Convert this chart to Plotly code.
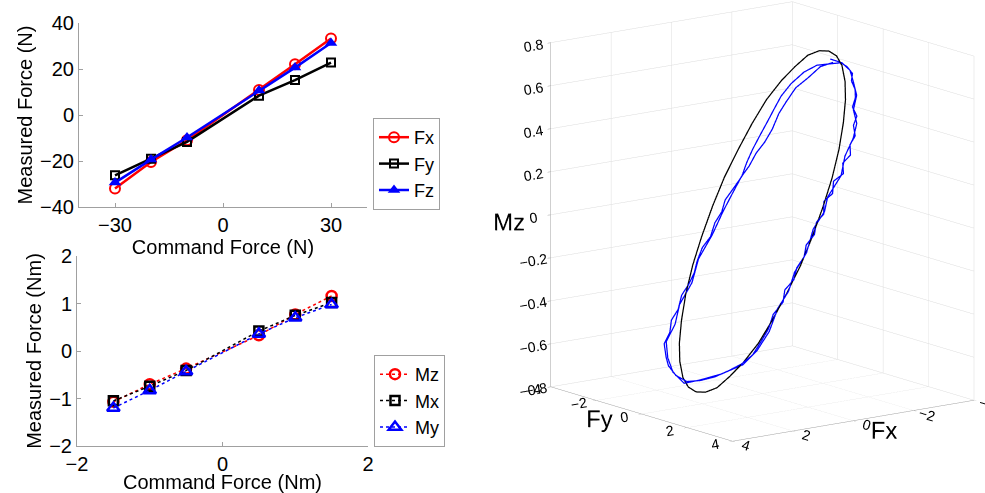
import plotly.graph_objects as go

# ---------------- data ----------------
cmd_force = [-30, -20, -10, 10, 20, 30]
meas_fx = [-32.0, -20.4, -11.0, 10.9, 22.1, 33.3]
meas_fy = [-26.2, -19.0, -11.7, 8.4, 15.2, 22.8]
meas_fz = [-29.4, -19.4, -9.8, 10.6, 20.6, 31.3]

cmd_moment = [-1.5, -1.0, -0.5, 0.5, 1.0, 1.5]
meas_mz = [-1.07, -0.70, -0.37, 0.33, 0.77, 1.16]
meas_mx = [-1.05, -0.74, -0.41, 0.42, 0.75, 1.02]
meas_my = [-1.20, -0.83, -0.43, 0.36, 0.70, 0.98]

# commanded trajectory (black ellipse)
ref_fx = [2.20, 2.17, 2.07, 1.91, 1.69, 1.41, 1.10, 0.75, 0.38, 0.00, -0.38, -0.75,
          -1.10, -1.41, -1.69, -1.91, -2.07, -2.17, -2.20, -2.17, -2.07, -1.91, -1.69, -1.41,
          -1.10, -0.75, -0.38, 0.00, 0.38, 0.75, 1.10, 1.41, 1.69, 1.91, 2.07, 2.17, 2.20]
ref_fy = [0.00, -0.38, -0.75, -1.10, -1.41, -1.69, -1.91, -2.07, -2.17, -2.20, -2.17, -2.07,
          -1.91, -1.69, -1.41, -1.10, -0.75, -0.38, 0.00, 0.38, 0.75, 1.10, 1.41, 1.69,
          1.91, 2.07, 2.17, 2.20, 2.17, 2.07, 1.91, 1.69, 1.41, 1.10, 0.75, 0.38, 0.00]
ref_mz = [-0.74, -0.73, -0.70, -0.64, -0.57, -0.48, -0.37, -0.25, -0.13, 0.00, 0.13, 0.25,
          0.37, 0.48, 0.57, 0.64, 0.70, 0.73, 0.74, 0.73, 0.70, 0.64, 0.57, 0.48,
          0.37, 0.25, 0.13, 0.00, -0.13, -0.25, -0.37, -0.48, -0.57, -0.64, -0.70, -0.73, -0.74]

# measured trajectory (blue, two laps)
meas3d_fx = [-2.12, -2.11, -2.08, -2.02, -1.94, -1.86, -1.74, -1.63, -1.54, -1.42, -1.32, -1.20,
             -1.08, -0.96, -0.84, -0.70, -0.57, -0.44, -0.30, -0.18, -0.03, 0.13, 0.27, 0.41,
             0.57, 0.71, 0.86, 1.03, 1.21, 1.40, 1.58, 1.73, 1.85, 1.95, 2.07, 2.12, 2.07, 2.00,
             1.89, 1.75, 1.60, 1.45, 1.30, 1.14, 0.98, 0.83, 0.67, 0.52, 0.36, 0.19, 0.03, -0.12,
             -0.29, -0.46, -0.63, -0.80, -0.98, -1.17, -1.35, -1.51, -1.68, -1.86, -2.01,
             -2.11, -2.05, -1.92, -1.79, -1.60, -1.47, -1.27, -1.04, -0.80, -0.52, -0.34, -0.08,
             0.21, 0.48, 0.73, 0.96, 1.25, 1.52, 1.71, 1.91, 2.06, 2.15, 2.06, 1.91, 1.72, 1.50,
             1.24, 0.95, 0.65, 0.32, 0.02, -0.22, -0.44, -0.60, -0.76, -0.93, -1.11, -1.30, -1.46,
             -1.65, -1.83, -1.98, -2.09]
meas3d_fy = [0.17, 0.60, 0.97, 1.28, 1.34, 1.61, 1.78, 1.80, 2.11, 2.12, 2.33, 2.26,
             2.44, 2.26, 2.45, 2.20, 2.33, 2.12, 2.30, 2.14, 2.25, 2.10, 2.19, 2.06,
             2.14, 1.93, 2.05, 1.84, 1.88, 1.79, 1.67, 1.36, 0.96, 0.50, 0.01, -0.51, -1.06, -1.48,
             -1.73, -2.00, -1.95, -2.08, -1.98, -2.04, -1.94, -1.90, -1.98, -1.95, -1.81, -1.84, -1.75, -1.80,
             -1.63, -1.52, -1.53, -1.49, -1.42, -1.35, -1.28, -1.18, -0.97, -0.64, -0.27,
             0.69, 1.13, 1.45, 1.77, 1.88, 2.20, 2.31, 2.25, 2.40, 2.18, 2.28, 2.13,
             2.22, 2.05, 2.12, 1.95, 1.96, 1.77, 1.42, 0.74, -0.04, -0.59, -1.20, -1.63, -1.95, -1.85,
             -2.00, -1.84, -1.95, -1.78, -1.72, -1.63, -1.51, -1.38, -1.28, -1.14, -1.04, -1.00, -0.91,
             -0.72, -0.43, -0.08, 0.33]
meas3d_mz = [0.71, 0.71, 0.70, 0.68, 0.65, 0.62, 0.59, 0.55, 0.52, 0.48, 0.44, 0.40,
             0.36, 0.32, 0.28, 0.24, 0.19, 0.15, 0.10, 0.06, 0.01, -0.04, -0.09, -0.14,
             -0.19, -0.24, -0.29, -0.35, -0.41, -0.47, -0.53, -0.58, -0.62, -0.66, -0.69, -0.71, -0.70, -0.67,
             -0.64, -0.59, -0.54, -0.49, -0.44, -0.38, -0.33, -0.28, -0.23, -0.17, -0.12, -0.06, -0.01, 0.04,
             0.10, 0.15, 0.21, 0.27, 0.33, 0.39, 0.45, 0.51, 0.57, 0.63, 0.67,
             0.71, 0.69, 0.65, 0.60, 0.54, 0.49, 0.43, 0.35, 0.27, 0.17, 0.11, 0.03,
             -0.07, -0.16, -0.24, -0.32, -0.42, -0.51, -0.58, -0.64, -0.69, -0.72, -0.69, -0.64, -0.58, -0.50,
             -0.42, -0.32, -0.22, -0.11, -0.01, 0.07, 0.15, 0.20, 0.26, 0.31, 0.37, 0.44, 0.49,
             0.56, 0.61, 0.67, 0.70]

FONT = "Liberation Sans, Arial, sans-serif"
W, H = 985, 493

fig = go.Figure()

# ---------- top panel: forces ----------
fig.add_trace(go.Scatter(x=cmd_force, y=meas_fx, name="Fx", mode="lines+markers",
                         line=dict(color="#ff0000", width=2.5),
                         marker=dict(symbol="circle-open", size=10, color="#ff0000", line=dict(width=2)),
                         xaxis="x", yaxis="y", legend="legend"))
fig.add_trace(go.Scatter(x=cmd_force, y=meas_fy, name="Fy", mode="lines+markers",
                         line=dict(color="#000000", width=2.5),
                         marker=dict(symbol="square-open", size=8, color="#000000", line=dict(width=2)),
                         xaxis="x", yaxis="y", legend="legend"))
fig.add_trace(go.Scatter(x=cmd_force, y=meas_fz, name="Fz", mode="lines+markers",
                         line=dict(color="#0000ff", width=2.5),
                         marker=dict(symbol="triangle-up", size=11, color="#0000ff"),
                         xaxis="x", yaxis="y", legend="legend"))

# ---------- bottom panel: moments ----------
fig.add_trace(go.Scatter(x=cmd_moment, y=meas_mz, name="Mz", mode="lines+markers",
                         line=dict(color="#ff0000", width=1.5, dash="dot"),
                         marker=dict(symbol="circle-open", size=10, color="#ff0000", line=dict(width=2.5)),
                         xaxis="x2", yaxis="y2", legend="legend2"))
fig.add_trace(go.Scatter(x=cmd_moment, y=meas_mx, name="Mx", mode="lines+markers",
                         line=dict(color="#000000", width=1.5, dash="dot"),
                         marker=dict(symbol="square-open", size=9, color="#000000", line=dict(width=2.5)),
                         xaxis="x2", yaxis="y2", legend="legend2"))
fig.add_trace(go.Scatter(x=cmd_moment, y=meas_my, name="My", mode="lines+markers",
                         line=dict(color="#0000ff", width=1.5, dash="dot"),
                         marker=dict(symbol="triangle-up-open", size=11, color="#0000ff", line=dict(width=2.5)),
                         xaxis="x2", yaxis="y2", legend="legend2"))

# ---------- 3D panel ----------
fig.add_trace(go.Scatter3d(x=ref_fx, y=ref_fy, z=ref_mz, mode="lines",
                           line=dict(color="#000000", width=2.5), showlegend=False, scene="scene"))
fig.add_trace(go.Scatter3d(x=meas3d_fx, y=meas3d_fy, z=meas3d_mz, mode="lines",
                           line=dict(color="#0000ff", width=2.5), showlegend=False, scene="scene"))

axis_common = dict(showline=True, linecolor="#a0a0a0", linewidth=1, ticks="inside",
                   ticklen=4, tickcolor="#a0a0a0", showgrid=False, zeroline=False,
                   automargin=False,
                   tickfont=dict(size=20, color="#000000", family=FONT), mirror=False)

fig.update_layout(
    width=W, height=H,
    margin=dict(l=0, r=0, t=0, b=0),
    paper_bgcolor="white", plot_bgcolor="white",
    font=dict(family=FONT, color="#000000"),
    xaxis=dict(domain=[79 / W, 367 / W], range=[-40, 40], tickvals=[-30, 0, 30], anchor="y",
               title=dict(text="Command Force (N)", font=dict(size=20), standoff=0), **axis_common),
    yaxis=dict(domain=[1 - 207 / H, 1 - 23 / H], range=[-40, 40], tickvals=[-40, -20, 0, 20, 40], anchor="x",
               title=dict(text="Measured Force (N)", font=dict(size=20), standoff=2), **axis_common),
    xaxis2=dict(domain=[77 / W, 368 / W], range=[-2, 2], tickvals=[-2, 0, 2], anchor="y2",
                title=dict(text="Command Force (Nm)", font=dict(size=20), standoff=0), **axis_common),
    yaxis2=dict(domain=[1 - 446 / H, 1 - 256 / H], range=[-2, 2], tickvals=[-2, -1, 0, 1, 2], anchor="x2",
                title=dict(text="Measured Force (Nm)", font=dict(size=20), standoff=2), **axis_common),
    legend=dict(x=373 / W, y=1 - 118 / H, xanchor="left", yanchor="top",
                bordercolor="#a0a0a0", borderwidth=1, bgcolor="white",
                font=dict(size=18, family=FONT), itemwidth=30, tracegroupgap=0),
    legend2=dict(x=374 / W, y=1 - 355 / H, xanchor="left", yanchor="top",
                 bordercolor="#a0a0a0", borderwidth=1, bgcolor="white",
                 font=dict(size=18, family=FONT), itemwidth=30, tracegroupgap=0),
)

axis3d = dict(showbackground=False, gridcolor="#dcdcdc", gridwidth=1, showline=True,
              linecolor="#a0a0a0", zeroline=False, showspikes=False, ticks="outside",
              ticklen=4, tickcolor="#a0a0a0",
              tickfont=dict(size=13, family=FONT, color="#000000"))

fig.update_layout(scene=dict(
    domain=dict(x=[0.5, 1.0], y=[0.0, 1.0]),
    xaxis=dict(title=dict(text="Fx", font=dict(size=24, family=FONT)), range=[-4, 4],
               tickvals=[-4, -2, 0, 2, 4], **axis3d),
    yaxis=dict(title=dict(text="Fy", font=dict(size=24, family=FONT)), range=[-4, 4],
               tickvals=[-4, -2, 0, 2, 4], **axis3d),
    zaxis=dict(title=dict(text="Mz", font=dict(size=24, family=FONT)), range=[-0.8, 0.8],
               tickvals=[-0.8, -0.6, -0.4, -0.2, 0, 0.2, 0.4, 0.6, 0.8], **axis3d),
    aspectmode="manual", aspectratio=dict(x=1.226, y=1.226, z=1.433),
    camera=dict(projection=dict(type="orthographic"),
                eye=dict(x=0.907, y=1.050, z=0.216),
                center=dict(x=0.075, y=-0.055, z=-0.104), up=dict(x=0, y=0, z=1)),
    bgcolor="white",
))

fig.write_html("out.html")
